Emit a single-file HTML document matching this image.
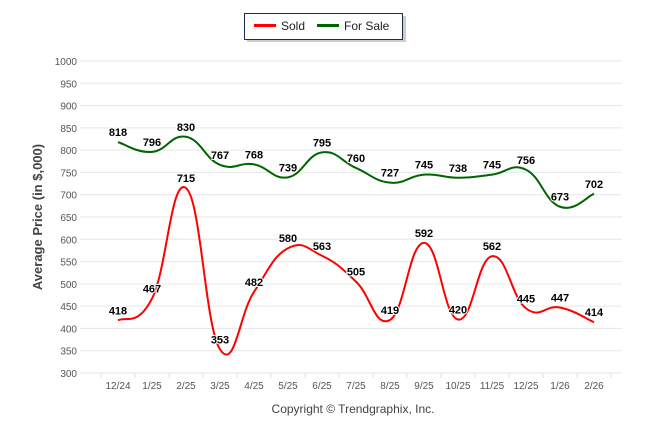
<!DOCTYPE html>
<html><head><meta charset="utf-8"><style>
body{margin:0;background:#fff;font-family:"Liberation Sans",Arial,sans-serif}
svg text{font-family:"Liberation Sans",Arial,sans-serif}
</style></head><body>
<svg id="c" width="646" height="434">
<g>
<rect x="247" y="16" width="159" height="26" fill="#999" opacity="0.5"/>
<rect x="244.5" y="13.5" width="158" height="26" fill="#fff" stroke="#1a2a55" stroke-width="1"/>
<line x1="254" y1="25.5" x2="276" y2="25.5" stroke="#f00" stroke-width="3"/>
<text x="281" y="30" font-size="12" fill="#222">Sold</text>
<line x1="317" y1="25.5" x2="339" y2="25.5" stroke="#006400" stroke-width="3"/>
<text x="344" y="30" font-size="12" fill="#222">For Sale</text>
</g>
<g id="grid"></g>
<g id="series"></g>
<g id="labels"></g>
<text transform="translate(42,217) rotate(-90)" text-anchor="middle" font-size="13" font-weight="bold" fill="#444">Average Price (in $,000)</text>
<text x="353" y="413" text-anchor="middle" font-size="12" fill="#444">Copyright © Trendgraphix, Inc.</text>
</svg>
<script>
const categories=["12/24","1/25","2/25","3/25","4/25","5/25","6/25","7/25","8/25","9/25","10/25","11/25","12/25","1/26","2/26"];
const sold=[418,467,715,353,482,580,563,505,419,592,420,562,445,447,414];
const forSale=[818,796,830,767,768,739,795,760,727,745,738,745,756,673,702];
const yTicks=[300,350,400,450,500,550,600,650,700,750,800,850,900,950,1000];
const NS="http://www.w3.org/2000/svg";
const svg=document.getElementById('c');
function y(v){return 373-(v-300)*312/700;}
function x(i){return 118+34*i;}
function mk(t,a,p){const e=document.createElementNS(NS,t);for(const k in a)e.setAttribute(k,a[k]);p.appendChild(e);return e;}
const grid=document.getElementById('grid');
yTicks.forEach(v=>{
 const l=mk('line',{x1:80,x2:622,y1:y(v),y2:y(v),stroke:'#e6e6e6','stroke-width':1},grid);
 
 
 const t=mk('text',{x:77,y:y(v)+4,'text-anchor':'end','font-size':10,fill:'#555'},grid);
 t.textContent=v;
 
 
});
for(let i=0;i<=categories.length;i++){
 const tx=x(i)-34/2-0.5*0+ (i===0?-0:0);
 mk('line',{x1:x(i)-17,x2:x(i)-17,y1:373,y2:378,stroke:'#ddd'},grid);
}
categories.forEach((c,i)=>{
 const t=mk('text',{x:x(i),y:389,'text-anchor':'middle','font-size':10,fill:'#555'},grid);
 t.textContent=c;
 
 
});
function path(vals){
 const p=vals.map((v,i)=>[x(i),y(v)]);
 let d='M'+p[0][0]+','+p[0][1];
 const s=0.22;
 for(let i=0;i<p.length-1;i++){
  const p0=p[i-1]||p[i],p1=p[i],p2=p[i+1],p3=p[i+2]||p2;
  const c1=[p1[0]+(p2[0]-p0[0])*s,p1[1]+(p2[1]-p0[1])*s];
  const c2=[p2[0]-(p3[0]-p1[0])*s,p2[1]-(p3[1]-p1[1])*s];
  d+=' C'+c1+' '+c2+' '+p2;
 }
 return d;
}
const ser=document.getElementById('series');
const a=mk('path',{d:path(sold),fill:'none',stroke:'#f00','stroke-width':2},ser);


const b=mk('path',{d:path(forSale),fill:'none',stroke:'#006400','stroke-width':2},ser);


const lab=document.getElementById('labels');
[[sold,'sold'],[forSale,'for-sale']].forEach(([arr,n])=>{
 arr.forEach((v,i)=>{
  const t=mk('text',{x:x(i),y:y(v)-6,'text-anchor':'middle','font-size':11,'font-weight':'bold',fill:'#000',stroke:'#fff','stroke-width':2,'paint-order':'stroke'},lab);
  t.textContent=v;
  
  
 });
});
</script>
</body></html>
